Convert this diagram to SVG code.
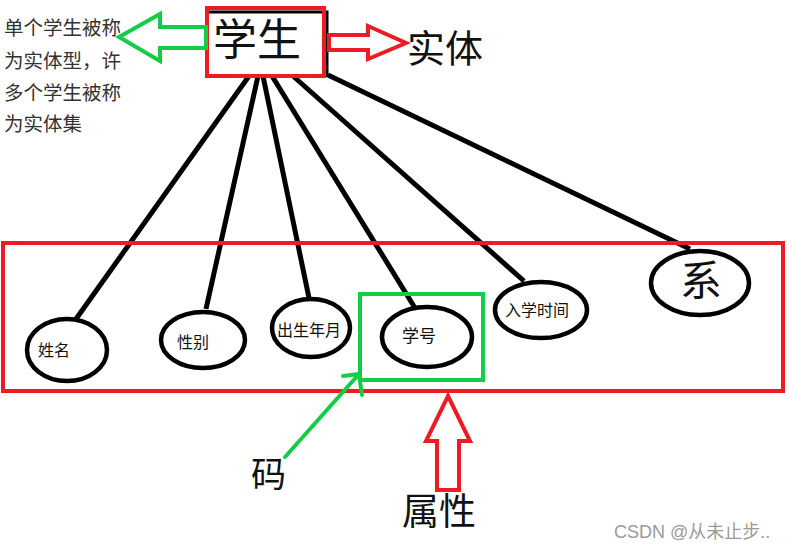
<svg xmlns="http://www.w3.org/2000/svg" width="792" height="552" viewBox="0 0 792 552">
<style>
text{font-family:"Noto Sans CJK SC","Noto Sans",sans-serif;fill:#111}
.red{fill:none;stroke:#ed1c24;stroke-width:4}
.grn{fill:none;stroke:#14cc45;stroke-width:4}
.ell{fill:#fff;stroke:#000;stroke-width:4.5}
.conn line{stroke:#000;stroke-width:5;stroke-linecap:butt}
.note{font-size:19.5px;fill:#333}
.lbl{font-size:16px}
</style>
<rect width="792" height="552" fill="#fff"/>
<g id="note">
<text class="note" x="4" y="35">单个学生被称</text>
<text class="note" x="4" y="68">为实体型，许</text>
<text class="note" x="4" y="100">多个学生被称</text>
<text class="note" x="4" y="131">为实体集</text>
</g>
<g class="conn" id="connectors">
<line x1="249" y1="76" x2="76" y2="319"/>
<line x1="258" y1="76" x2="206" y2="309"/>
<line x1="263" y1="76" x2="309" y2="298"/>
<line x1="272" y1="76" x2="415" y2="308"/>
<line x1="293" y1="76" x2="524" y2="281"/>
<line x1="328" y1="75" x2="690" y2="249"/>
</g>
<g id="entity">
<rect x="207" y="8" width="117" height="68" fill="#fff"/>
<path d="M207,12 H327 V77" fill="none" stroke="#000" stroke-width="3"/>
<rect class="red" x="207" y="8" width="117" height="68"/>
<text x="213" y="56" font-size="44">学生</text>
</g>
<g id="arrow-left">
<path class="grn" d="M119,37 L160,14 V27 H206 V48 H160 V61 Z"/>
</g>
<g id="arrow-right">
<path class="red" d="M329,35 H368 V26 L406,43 L368,59 V50 H329 Z"/>
</g>
<g id="label-entity"><text x="407" y="62" font-size="38">实体</text></g>
<g id="attrs-box"><rect class="red" x="3" y="243" width="780" height="148"/></g>
<g id="attr-xingming">
<ellipse class="ell" cx="67" cy="350" rx="40" ry="31"/>
<text class="lbl" x="38" y="356">姓名</text>
</g>
<g id="attr-xingbie">
<ellipse class="ell" cx="203" cy="340" rx="42" ry="28"/>
<text class="lbl" x="177" y="348">性别</text>
</g>
<g id="attr-chusheng">
<ellipse class="ell" cx="311" cy="328" rx="39" ry="29"/>
<text class="lbl" x="277" y="336">出生年月</text>
</g>
<g id="attr-xuehao">
<ellipse class="ell" cx="427" cy="337" rx="45" ry="30"/>
<text x="402" y="342" font-size="17">学号</text>
</g>
<g id="attr-ruxue">
<ellipse class="ell" cx="541" cy="310" rx="46" ry="28"/>
<text class="lbl" x="505" y="316" font-size="16.5">入学时间</text>
</g>
<g id="attr-xi">
<ellipse class="ell" cx="700" cy="283" rx="49" ry="32"/>
<text x="680" y="296" font-size="42">系</text>
</g>
<g id="key-box"><rect class="grn" x="360" y="294" width="123" height="86"/></g>
<g id="key-arrow">
<path class="grn" d="M285,457 L359,374 M343,376 L359,374 L362,395" stroke-linecap="round" stroke-linejoin="round" stroke-width="4.5"/>
</g>
<g id="label-key"><text x="251" y="487" font-size="35">码</text></g>
<g id="attr-arrow">
<path class="red" d="M448,396 L470,441 H459 V490 H437 V441 H426 Z"/>
</g>
<g id="label-attr"><text x="402" y="525" font-size="37">属性</text></g>
<g id="watermark"><text x="614" y="538" font-size="18" style="fill:#9a9a9a;font-family:'Liberation Sans','Noto Sans CJK SC',sans-serif">CSDN @从未止步..</text></g>
</svg>
